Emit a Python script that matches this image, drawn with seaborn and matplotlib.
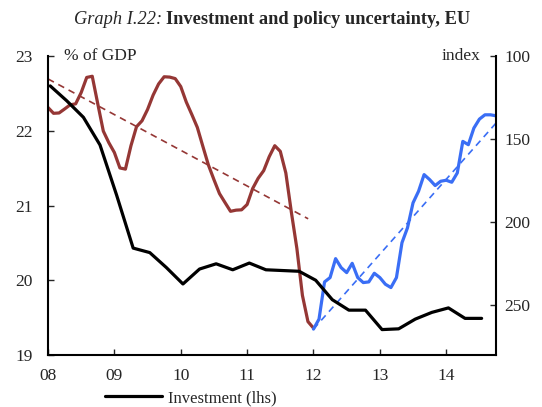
import numpy as np
import pandas as pd
import matplotlib
matplotlib.use('Agg')
import matplotlib.pyplot as plt
import seaborn as sns

# Investment, % of GDP (quarterly, lhs)
invest = [22.60, 22.40, 22.18, 21.81, 21.14, 20.43, 20.37, 20.17, 19.95, 20.15,
          20.22, 20.14, 20.23, 20.14, 20.13, 20.12, 20.00, 19.74, 19.60, 19.60,
          19.34, 19.35, 19.48, 19.57, 19.63, 19.49, 19.49]
# Policy uncertainty index (monthly, rhs inverted), Jan 2008 - Jan 2012
unc_red = [131.0, 134.5, 134.3, 131.9, 129.4, 128.8, 122.0, 112.9, 112.2, 128.8,
           145.2, 152.2, 158.1, 167.4, 168.1, 154.0, 142.6, 139.0, 132.2, 123.6,
           116.8, 112.5, 112.7, 113.6, 118.4, 127.7, 135.2, 143.0, 154.4, 165.6,
           174.4, 182.8, 188.2, 193.5, 192.8, 192.6, 189.4, 179.8, 173.6, 169.0,
           160.6, 154.0, 157.4, 170.4, 194.0, 215.9, 244.1, 259.9, 263.8]
# Jan 2012 - Oct 2014
unc_blue = [264.4, 258.4, 236.0, 233.4, 222.0, 227.4, 230.4, 224.8, 233.4, 236.4,
            236.0, 230.8, 233.4, 237.4, 239.4, 233.4, 212.4, 203.4, 188.4, 181.4,
            171.4, 174.4, 178.0, 175.4, 174.8, 176.0, 170.4, 151.4, 153.4, 143.4,
            138.0, 135.4, 135.4, 136.0]
# trend lines (start, end)
trend_red_x = [2008.0, 2011.92]
trend_red_y = [113.8, 198.0]
trend_blue_x = [2012.0, 2014.75]
trend_blue_y = [264.4, 140.4]

years = [2008, 2009, 2010, 2011, 2012, 2013, 2014]
year_labels = ['08', '09', '10', '11', '12', '13', '14']

t_inv = 2008 + (3 * np.arange(len(invest)) + 0.4) / 12
t_red = 2008 + np.arange(len(unc_red)) / 12
t_blue = 2012 + np.arange(len(unc_blue)) / 12

RED = '#953735'
BLUE = '#3A6EF5'

sns.set_style('ticks')
plt.rcParams['font.family'] = ['Liberation Serif', 'DejaVu Serif']

fig = plt.figure(figsize=(5.42, 4.07), dpi=100)
ax = fig.add_axes([48 / 542, 52 / 407, 448 / 542, 299 / 407])
ax2 = ax.twinx()

sns.lineplot(x=t_inv, y=invest, ax=ax, color='black', lw=2.3, label='Investment (lhs)',
             legend=False)
sns.lineplot(x=t_red, y=unc_red, ax=ax2, color=RED, lw=2.3)
sns.lineplot(x=trend_red_x, y=trend_red_y, ax=ax2, color=RED, lw=1.2, dashes=(4, 3))
sns.lineplot(x=t_blue, y=unc_blue, ax=ax2, color=BLUE, lw=2.3)
sns.lineplot(x=trend_blue_x, y=trend_blue_y, ax=ax2, color=BLUE, lw=1.2, dashes=(4, 3))
# keep black line on top like the reference
ax.set_zorder(ax2.get_zorder() + 1)
ax.patch.set_visible(False)

ax.set_xlim(2008, 2014.75)
ax.set_ylim(19, 23)
ax.set_yticks([19, 20, 21, 22, 23])
ax.set_xticks(years)
ax.set_xticklabels(year_labels)
ax2.set_ylim(280, 100)
ax2.set_yticks([100, 150, 200, 250])

for a in (ax, ax2):
    a.spines['top'].set_visible(False)
    for s in ('left', 'right', 'bottom'):
        a.spines[s].set_linewidth(1.5)
        a.spines[s].set_color('black')
ax.spines['right'].set_visible(False)
ax2.spines['left'].set_visible(False)
ax2.spines['bottom'].set_visible(False)

ax.tick_params(axis='y', direction='in', length=4, width=1, labelsize=12.5, pad=11)
ax.tick_params(axis='x', direction='in', length=4, width=1, labelsize=12.5, pad=9)
ax2.tick_params(axis='y', direction='in', length=4, width=1, labelsize=12.5, pad=6)
ax.set_xlabel('')
ax.set_ylabel('')
ax2.set_ylabel('')

ax.text(0.035, 1.0, '% of GDP', transform=ax.transAxes, ha='left', va='center', fontsize=12.5)
ax2.text(0.965, 1.0, 'index', transform=ax2.transAxes, ha='right', va='center', fontsize=12.5)

fig.text(162 / 542, 1 - 19 / 407, 'Graph I.22:', style='italic', ha='right', va='center',
         fontsize=13.2)
fig.text(166 / 542, 1 - 19 / 407, 'Investment and policy uncertainty, EU', weight='bold',
         ha='left', va='center', fontsize=13.2)

h, l = ax.get_legend_handles_labels()
fig.legend(h, l, loc='center left', bbox_to_anchor=(105 / 542, 1 - 398 / 407), frameon=False,
           fontsize=12, handlelength=3.4, handletextpad=0.35, borderaxespad=0, borderpad=0)

fig.savefig('out.png', dpi=100)
